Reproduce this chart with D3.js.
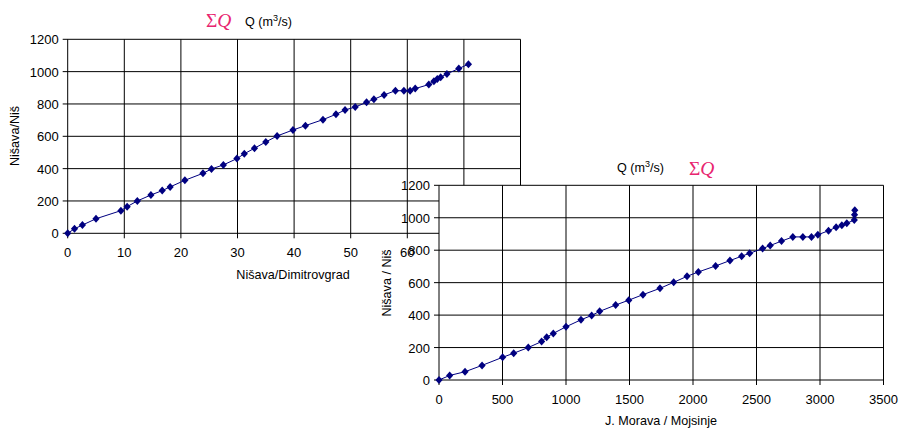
<!DOCTYPE html>
<html lang="en">
<head>
    <meta charset="UTF-8">
    <title>Nišava / Niš — ΣQ</title>
    <script src="https://d3js.org/d3.v7.min.js"></script>
    <style>
        body { margin: 0; background: #fff; }
        svg { display: block; font-family: Arial, "Liberation Sans", sans-serif; }
        .tick-label { font-size: 13px; fill: #000; }
        .axis-title { font-size: 12.6px; fill: #000; }
        .sigma { font-family: "Liberation Serif", "Times New Roman", serif; font-size: 19.5px; fill: #e8256f; }
    </style>
</head>
<body>
<svg id="chart" width="901" height="432"></svg>
<script>
    // Niš flow sums, shared by both plots
    const nis = [0, 28, 51, 90, 140, 165, 200, 237, 264, 287, 328, 371, 398, 423, 462, 492, 526, 565, 602, 639,
        666, 703, 736, 763, 781, 810, 829, 856, 882, 882, 882, 895, 920, 941, 954, 966, 986, 1019, 1046];
    // Nišava / Dimitrovgrad cumulative
    const dimitrovgrad = [0, 1.2, 2.6, 5.0, 9.4, 10.5, 12.3, 14.7, 16.7, 18.1, 20.7, 23.9, 25.4, 27.5, 29.9, 31.2, 33.0,
        35.0, 37.0, 39.8, 42.0, 45.1, 47.4, 49.0, 50.8, 52.8, 54.1, 55.9, 57.9, 59.4, 60.5, 61.4, 63.8, 64.7, 65.3,
        65.9, 67.0, 69.1, 70.8];
    // J. Morava / Mojsinje cumulative
    const mojsinje = [0, 84, 205, 339, 501, 588, 703, 808, 848, 900, 1000, 1118, 1202, 1265, 1391, 1494, 1606, 1740,
        1848, 1953, 2042, 2178, 2291, 2383, 2446, 2548, 2608, 2697, 2786, 2865, 2933, 2983, 3067, 3127, 3172, 3211,
        3270, 3272, 3274];

    const xTicks1 = [0, 10, 20, 30, 40, 50, 60, 70, 80];
    const xTicks2 = [0, 500, 1000, 1500, 2000, 2500, 3000, 3500];
    const yTicks = [0, 200, 400, 600, 800, 1000, 1200];

    const svg = d3.select("#chart");
    const diamond = "M0,-4L3.6,0L0,4L-3.6,0Z";

    function drawPlot(cfg) {
        const g = svg.append("g");
        const x = d3.scaleLinear().domain(cfg.xDomain).range(cfg.xRange);
        const y = d3.scaleLinear().domain([0, 1200]).range(cfg.yRange);
        const [x0, x1] = cfg.xRange;
        const [y0, y1] = cfg.yRange;

        if (cfg.fill) {
            g.append("rect").attr("x", x0).attr("y", y1)
                .attr("width", x1 - x0).attr("height", y0 - y1).attr("fill", "#fff");
        }

        // grid
        g.selectAll(".vgrid").data(cfg.xTicks).enter().append("line")
            .attr("x1", d => x(d)).attr("x2", d => x(d))
            .attr("y1", y1).attr("y2", y0 + 5)
            .attr("stroke", "#000").attr("stroke-width", 1);
        g.selectAll(".hgrid").data(yTicks).enter().append("line")
            .attr("x1", x0 - 5).attr("x2", x1)
            .attr("y1", d => y(d)).attr("y2", d => y(d))
            .attr("stroke", "#000").attr("stroke-width", 1);

        // tick labels
        g.selectAll(".ylab").data(yTicks).enter().append("text")
            .attr("class", "tick-label")
            .attr("x", x0 - 9).attr("y", d => y(d) + 5)
            .attr("text-anchor", "end").text(d => d);
        g.selectAll(".xlab").data(cfg.xTicks).enter().append("text")
            .attr("class", "tick-label")
            .attr("x", d => x(d)).attr("y", y0 + 24)
            .attr("text-anchor", "middle").text(d => d);

        // series
        const pts = cfg.xs.map((v, i) => [v, nis[i]]);
        g.append("path").datum(pts)
            .attr("fill", "none").attr("stroke", "#000080").attr("stroke-width", 1)
            .attr("d", d3.line().x(d => x(d[0])).y(d => y(d[1])));
        g.selectAll(".pt").data(pts).enter().append("path")
            .attr("d", diamond).attr("fill", "#000080")
            .attr("transform", d => `translate(${x(d[0])},${y(d[1])})`);

        return {g, x, y};
    }

    function qTitle(px, py) {
        const t = svg.append("text").attr("class", "axis-title").attr("x", px).attr("y", py);
        t.append("tspan").text("Q (m");
        t.append("tspan").attr("font-size", "9px").attr("dy", -5).text("3");
        t.append("tspan").attr("dy", 5).text("/s)");
    }

    function sigmaTitle(px, py) {
        const t = svg.append("text").attr("x", px).attr("y", py);
        t.append("tspan").attr("class", "sigma").text("Σ");
        t.append("tspan").attr("class", "sigma").attr("font-style", "italic").text("Q");
    }

    // first plot: Nišava/Dimitrovgrad
    drawPlot({
        xDomain: [0, 80], xRange: [67.7, 520.5], yRange: [233.3, 39.3],
        xTicks: xTicks1, xs: dimitrovgrad
    });
    svg.append("text").attr("class", "axis-title")
        .attr("transform", "translate(19,136) rotate(-90)")
        .attr("text-anchor", "middle").text("Nišava/Niš");
    svg.append("text").attr("class", "axis-title")
        .attr("x", 293).attr("y", 279).attr("text-anchor", "middle").text("Nišava/Dimitrovgrad");
    sigmaTitle(206, 27);
    qTitle(245, 26);

    // second plot: J. Morava / Mojsinje, drawn over the first
    drawPlot({
        xDomain: [0, 3500], xRange: [439, 883.5], yRange: [380, 185.3],
        xTicks: xTicks2, xs: mojsinje, fill: true
    });
    svg.append("text").attr("class", "axis-title")
        .attr("transform", "translate(391,283) rotate(-90)")
        .attr("text-anchor", "middle").text("Nišava / Niš");
    svg.append("text").attr("class", "axis-title")
        .attr("x", 661).attr("y", 425).attr("text-anchor", "middle").text("J. Morava / Mojsinje");
    qTitle(617, 172);
    sigmaTitle(689, 175);
</script>
</body>
</html>
